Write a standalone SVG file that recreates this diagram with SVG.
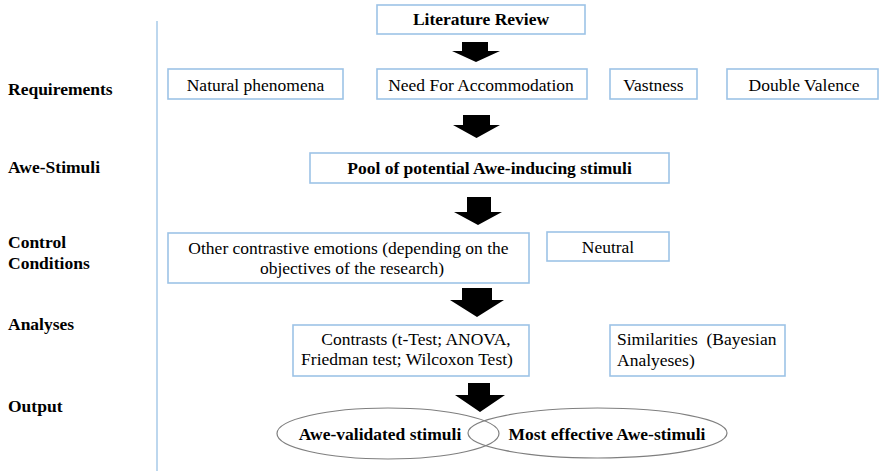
<svg xmlns="http://www.w3.org/2000/svg" width="880" height="473" viewBox="0 0 880 473">
<style>
text{font-family:"Liberation Serif","Times New Roman",serif;font-size:17.5px;fill:#000}
.b{font-weight:bold}
.lbl{font-weight:bold}
.box{fill:#fff;stroke:#9dc3e6;stroke-width:1.6}
.ell{fill:none;stroke:#7f7f7f;stroke-width:1.2}
.arr{fill:#000}
.c{text-anchor:middle}
</style>
<rect width="880" height="473" fill="#fff"/>
<line x1="157" y1="21" x2="157" y2="471" stroke="#bdd7ee" stroke-width="2"/>
<g id="labels">
<text class="lbl" x="8" y="95">Requirements</text>
<text class="lbl" x="8" y="173">Awe-Stimuli</text>
<text class="lbl" x="8" y="248">Control</text>
<text class="lbl" x="8" y="269">Conditions</text>
<text class="lbl" x="8" y="330">Analyses</text>
<text class="lbl" x="8" y="412">Output</text>
</g>
<g id="connectors">
<polygon class="arr" points="462,42 488,42 488,51 500,51 476,62 452,51 462,51"/>
<polygon class="arr" points="463,115 490,115 490,125 500,125 476.5,138 453,125 463,125"/>
<polygon class="arr" points="467,197 491,197 491,212 502,212 478,225 454,212 467,212"/>
<polygon class="arr" points="462,288 492,288 492,300 504,300 477,317 450,300 462,300"/>
<polygon class="arr" points="468,383 490,383 490,395 505,395 480,412 455,395 468,395"/>
</g>
<g id="literature-review">
<rect class="box" x="377" y="5" width="208" height="29"/>
<text class="b c" x="481" y="25">Literature Review</text>
</g>
<g id="natural-phenomena">
<rect class="box" x="168" y="69" width="175" height="30"/>
<text class="c" x="255.5" y="91">Natural phenomena</text>
</g>
<g id="need-for-accommodation">
<rect class="box" x="377" y="69" width="210" height="30"/>
<text class="c" x="481" y="91">Need For Accommodation</text>
</g>
<g id="vastness">
<rect class="box" x="610" y="69" width="87" height="30"/>
<text class="c" x="653.5" y="91">Vastness</text>
</g>
<g id="double-valence">
<rect class="box" x="727" y="69" width="151" height="30"/>
<text class="c" x="804" y="91">Double Valence</text>
</g>
<g id="pool">
<rect class="box" x="310" y="153" width="359" height="30"/>
<text class="b c" x="489.5" y="174">Pool of potential Awe-inducing stimuli</text>
</g>
<g id="other-contrastive">
<rect class="box" x="168" y="233" width="361" height="50"/>
<text class="c" x="348.5" y="254">Other contrastive emotions (depending on the</text>
<text class="c" x="352" y="274">objectives of the research)</text>
</g>
<g id="neutral">
<rect class="box" x="547" y="232" width="122" height="29"/>
<text class="c" x="608" y="253">Neutral</text>
</g>
<g id="contrasts">
<rect class="box" x="293" y="325" width="236" height="51"/>
<text class="c" x="416" y="345">Contrasts (t-Test; ANOVA,</text>
<text class="c" x="407" y="365">Friedman test; Wilcoxon Test)</text>
</g>
<g id="similarities">
<rect class="box" x="610" y="325" width="175" height="51"/>
<text x="617" y="345" xml:space="preserve">Similarities  (Bayesian</text>
<text x="617" y="366">Analyeses)</text>
</g>
<g id="awe-validated">
<ellipse class="ell" cx="388" cy="433.5" rx="111" ry="25.5"/>
<text class="b c" x="380" y="440">Awe-validated stimuli</text>
</g>
<g id="most-effective">
<ellipse class="ell" cx="597.5" cy="433" rx="129.5" ry="25"/>
<text class="b c" x="607" y="440">Most effective Awe-stimuli</text>
</g>
</svg>
